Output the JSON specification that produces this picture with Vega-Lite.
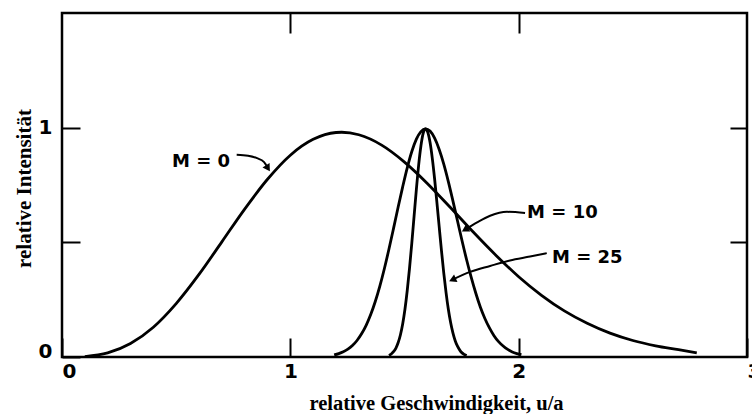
{
  "$schema": "https://vega.github.io/schema/vega-lite/v6.json",
  "width": 685,
  "height": 344,
  "autosize": "none",
  "padding": {"left": 62, "top": 13, "right": 5, "bottom": 57},
  "background": "white",
  "config": {"view": {"stroke": "black", "strokeWidth": 2.5}},
  "datasets": {
    "curves": [
      {"M": "0", "u": 0.1, "v": 0.002}, {"M": "0", "u": 0.2, "v": 0.018}, {"M": "0", "u": 0.3, "v": 0.059},
      {"M": "0", "u": 0.4, "v": 0.130}, {"M": "0", "u": 0.5, "v": 0.233}, {"M": "0", "u": 0.6, "v": 0.360},
      {"M": "0", "u": 0.7, "v": 0.502}, {"M": "0", "u": 0.8, "v": 0.645}, {"M": "0", "u": 0.9, "v": 0.775},
      {"M": "0", "u": 1.0, "v": 0.880}, {"M": "0", "u": 1.1, "v": 0.949}, {"M": "0", "u": 1.2, "v": 0.979},
      {"M": "0", "u": 1.225, "v": 0.980}, {"M": "0", "u": 1.3, "v": 0.969}, {"M": "0", "u": 1.4, "v": 0.924},
      {"M": "0", "u": 1.5, "v": 0.850}, {"M": "0", "u": 1.6, "v": 0.757}, {"M": "0", "u": 1.7, "v": 0.653},
      {"M": "0", "u": 1.8, "v": 0.546}, {"M": "0", "u": 1.9, "v": 0.444}, {"M": "0", "u": 2.0, "v": 0.350},
      {"M": "0", "u": 2.1, "v": 0.269}, {"M": "0", "u": 2.2, "v": 0.201}, {"M": "0", "u": 2.3, "v": 0.147},
      {"M": "0", "u": 2.4, "v": 0.104}, {"M": "0", "u": 2.5, "v": 0.072}, {"M": "0", "u": 2.6, "v": 0.049},
      {"M": "0", "u": 2.7, "v": 0.032}, {"M": "0", "u": 2.78, "v": 0.018},
      {"M": "10", "u": 1.192, "v": 0.009}, {"M": "10", "u": 1.212, "v": 0.015}, {"M": "10", "u": 1.232, "v": 0.023},
      {"M": "10", "u": 1.252, "v": 0.034}, {"M": "10", "u": 1.272, "v": 0.050}, {"M": "10", "u": 1.292, "v": 0.072},
      {"M": "10", "u": 1.312, "v": 0.101}, {"M": "10", "u": 1.332, "v": 0.138}, {"M": "10", "u": 1.352, "v": 0.185},
      {"M": "10", "u": 1.372, "v": 0.242}, {"M": "10", "u": 1.392, "v": 0.309}, {"M": "10", "u": 1.412, "v": 0.386},
      {"M": "10", "u": 1.432, "v": 0.471}, {"M": "10", "u": 1.452, "v": 0.561}, {"M": "10", "u": 1.472, "v": 0.653},
      {"M": "10", "u": 1.492, "v": 0.742}, {"M": "10", "u": 1.512, "v": 0.825}, {"M": "10", "u": 1.532, "v": 0.896},
      {"M": "10", "u": 1.552, "v": 0.950}, {"M": "10", "u": 1.572, "v": 0.983}, {"M": "10", "u": 1.592, "v": 0.995},
      {"M": "10", "u": 1.612, "v": 0.985}, {"M": "10", "u": 1.632, "v": 0.954}, {"M": "10", "u": 1.652, "v": 0.905},
      {"M": "10", "u": 1.672, "v": 0.841}, {"M": "10", "u": 1.692, "v": 0.765}, {"M": "10", "u": 1.712, "v": 0.681},
      {"M": "10", "u": 1.732, "v": 0.594}, {"M": "10", "u": 1.752, "v": 0.507}, {"M": "10", "u": 1.772, "v": 0.424},
      {"M": "10", "u": 1.792, "v": 0.348}, {"M": "10", "u": 1.812, "v": 0.279}, {"M": "10", "u": 1.832, "v": 0.218},
      {"M": "10", "u": 1.852, "v": 0.168}, {"M": "10", "u": 1.872, "v": 0.127}, {"M": "10", "u": 1.892, "v": 0.093},
      {"M": "10", "u": 1.912, "v": 0.067}, {"M": "10", "u": 1.932, "v": 0.048}, {"M": "10", "u": 1.952, "v": 0.033},
      {"M": "10", "u": 1.972, "v": 0.022}, {"M": "10", "u": 1.992, "v": 0.015}, {"M": "10", "u": 2.012, "v": 0.010},
      {"M": "25", "u": 1.432, "v": 0.007}, {"M": "25", "u": 1.442, "v": 0.013}, {"M": "25", "u": 1.452, "v": 0.023},
      {"M": "25", "u": 1.462, "v": 0.038}, {"M": "25", "u": 1.472, "v": 0.062}, {"M": "25", "u": 1.482, "v": 0.096},
      {"M": "25", "u": 1.492, "v": 0.144}, {"M": "25", "u": 1.502, "v": 0.208}, {"M": "25", "u": 1.512, "v": 0.290},
      {"M": "25", "u": 1.522, "v": 0.387}, {"M": "25", "u": 1.532, "v": 0.497}, {"M": "25", "u": 1.542, "v": 0.614},
      {"M": "25", "u": 1.552, "v": 0.731}, {"M": "25", "u": 1.562, "v": 0.837}, {"M": "25", "u": 1.572, "v": 0.921},
      {"M": "25", "u": 1.582, "v": 0.976}, {"M": "25", "u": 1.592, "v": 0.995}, {"M": "25", "u": 1.602, "v": 0.980},
      {"M": "25", "u": 1.612, "v": 0.935}, {"M": "25", "u": 1.622, "v": 0.864}, {"M": "25", "u": 1.632, "v": 0.775},
      {"M": "25", "u": 1.642, "v": 0.673}, {"M": "25", "u": 1.652, "v": 0.567}, {"M": "25", "u": 1.662, "v": 0.463},
      {"M": "25", "u": 1.672, "v": 0.366}, {"M": "25", "u": 1.682, "v": 0.281}, {"M": "25", "u": 1.692, "v": 0.208},
      {"M": "25", "u": 1.702, "v": 0.150}, {"M": "25", "u": 1.712, "v": 0.105}, {"M": "25", "u": 1.722, "v": 0.071},
      {"M": "25", "u": 1.732, "v": 0.047}, {"M": "25", "u": 1.742, "v": 0.030}, {"M": "25", "u": 1.752, "v": 0.018},
      {"M": "25", "u": 1.762, "v": 0.011}, {"M": "25", "u": 1.772, "v": 0.006}
    ],
    "arrows": [
      {"M": "0", "u": 0.765, "v": 0.882}, {"M": "0", "u": 0.815, "v": 0.878}, {"M": "0", "u": 0.854, "v": 0.867},
      {"M": "0", "u": 0.885, "v": 0.850}, {"M": "0", "u": 0.902, "v": 0.823},
      {"M": "10", "u": 2.028, "v": 0.628}, {"M": "10", "u": 1.949, "v": 0.633}, {"M": "10", "u": 1.875, "v": 0.616},
      {"M": "10", "u": 1.818, "v": 0.587}, {"M": "10", "u": 1.765, "v": 0.555},
      {"M": "25", "u": 2.123, "v": 0.453}, {"M": "25", "u": 2.050, "v": 0.438}, {"M": "25", "u": 1.962, "v": 0.421},
      {"M": "25", "u": 1.875, "v": 0.397}, {"M": "25", "u": 1.787, "v": 0.371}, {"M": "25", "u": 1.710, "v": 0.337}
    ],
    "tips": [
      {"M": "0", "u": 0.902, "v": 0.823, "dir": 148},
      {"M": "10", "u": 1.765, "v": 0.555, "dir": 239},
      {"M": "25", "u": 1.710, "v": 0.337, "dir": 246}
    ],
    "labels": [
      {"text": "M = 0", "u": 0.482, "v": 0.852},
      {"text": "M = 10", "u": 2.037, "v": 0.629},
      {"text": "M = 25", "u": 2.146, "v": 0.432}
    ]
  },
  "layer": [
    {
      "data": {"name": "curves"},
      "mark": {"type": "line", "color": "black", "strokeWidth": 2.8, "interpolate": "monotone"},
      "encoding": {
        "x": {
          "field": "u", "type": "quantitative",
          "scale": {"domain": [0, 3], "nice": false, "zero": false},
          "axis": {
            "orient": "bottom", "values": [0, 1, 2, 3],
            "format": ".0f",
            "labelFlush": false,
            "labelAlign": {"condition": {"test": "datum.value == 0 || datum.value == 3", "value": "left"}, "value": "center"},
            "tickSize": -19, "tickWidth": 2, "tickColor": "black",
            "domain": false, "grid": false,
            "labelFont": "DejaVu Sans", "labelFontWeight": "bold", "labelFontSize": 20, "labelColor": "black",
            "labelPadding": 23,
            "title": "relative Geschwindigkeit, u/a",
            "titleFont": "Liberation Serif", "titleFontWeight": "bold", "titleFontSize": 20.5, "titleColor": "black",
            "titleX": 374, "titleY": 52, "titleBaseline": "alphabetic", "titleAlign": "center"
          }
        },
        "y": {
          "field": "v", "type": "quantitative",
          "scale": {"domain": [0, 1.5], "nice": false},
          "axis": {
            "orient": "left", "values": [0, 0.5, 1],
            "format": ".0f",
            "labelExpr": "datum.value == 0.5 ? '' : datum.label",
            "labelBaseline": {"condition": {"test": "datum.value == 0", "value": "alphabetic"}, "value": "middle"},
            "tickSize": -18, "tickWidth": 2, "tickColor": "black",
            "domain": false, "grid": false,
            "labelFont": "DejaVu Sans", "labelFontWeight": "bold", "labelFontSize": 20, "labelColor": "black",
            "labelPadding": 28,
            "title": "relative Intensität",
            "titleFont": "Liberation Serif", "titleFontWeight": "bold", "titleFontSize": 21, "titleColor": "black",
            "titleX": -38, "titleY": 175, "titleAngle": -90, "titleBaseline": "middle", "titleAlign": "center"
          }
        },
        "detail": {"field": "M", "type": "nominal"}
      }
    },
    {
      "data": {"name": "arrows"},
      "mark": {"type": "line", "color": "black", "strokeWidth": 2, "interpolate": "monotone"},
      "encoding": {
        "x": {
          "field": "u", "type": "quantitative",
          "scale": {"domain": [0, 3], "nice": false, "zero": false},
          "axis": {"orient": "top", "values": [1, 2], "labels": false, "tickSize": -20, "tickWidth": 2,
                   "tickColor": "black", "domain": false, "grid": false, "title": null}
        },
        "y": {
          "field": "v", "type": "quantitative",
          "scale": {"domain": [0, 1.5], "nice": false},
          "axis": {"orient": "right", "values": [0.5, 1], "labels": false, "tickSize": -17, "tickWidth": 2,
                   "tickColor": "black", "domain": false, "grid": false, "title": null}
        },
        "detail": {"field": "M", "type": "nominal"}
      }
    },
    {
      "data": {"name": "tips"},
      "mark": {"type": "point", "shape": "triangle-up", "filled": true, "color": "black", "opacity": 1, "size": 70},
      "encoding": {
        "x": {"field": "u", "type": "quantitative", "axis": null},
        "y": {"field": "v", "type": "quantitative", "axis": null},
        "angle": {"field": "dir", "type": "quantitative", "scale": null}
      }
    },
    {
      "data": {"name": "labels"},
      "mark": {"type": "text", "align": "left", "baseline": "middle", "font": "DejaVu Sans", "fontWeight": "bold", "fontSize": 18, "color": "black"},
      "encoding": {
        "x": {"field": "u", "type": "quantitative", "axis": null},
        "y": {"field": "v", "type": "quantitative", "axis": null},
        "text": {"field": "text", "type": "nominal"}
      }
    }
  ],
  "resolve": {"axis": {"x": "independent", "y": "independent"}}
}
